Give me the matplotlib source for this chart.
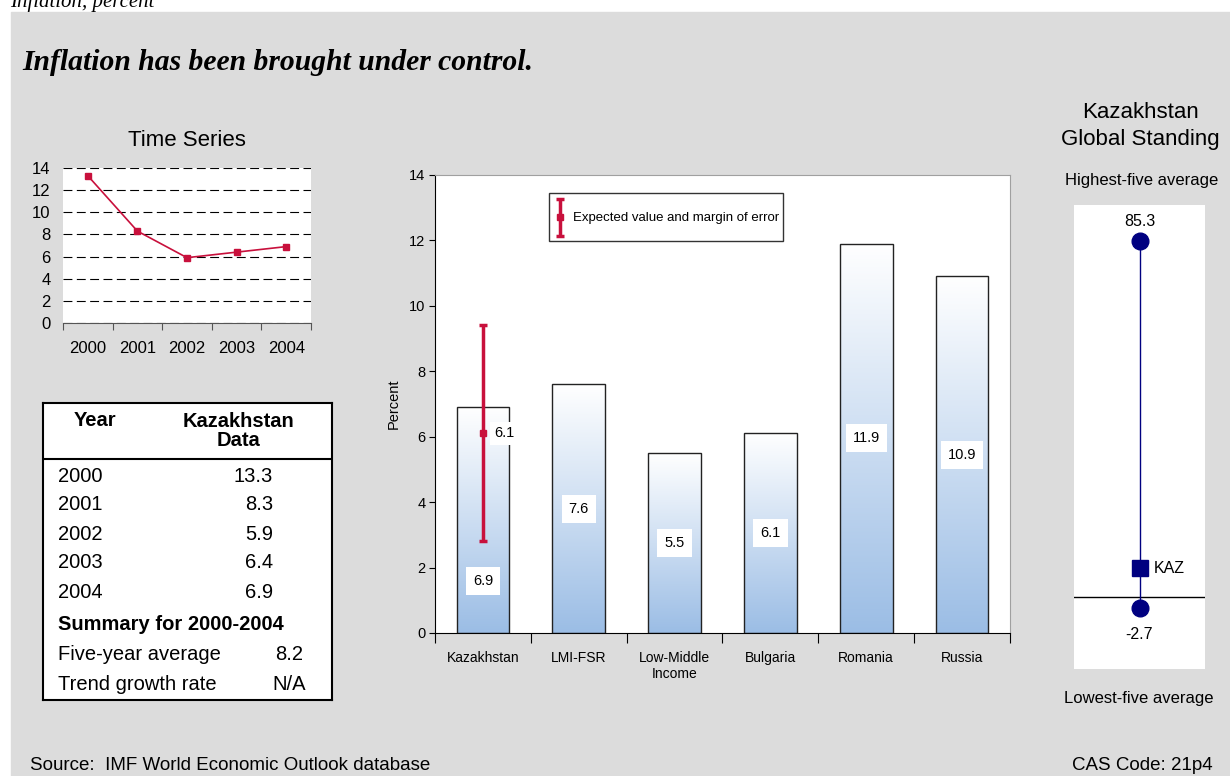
import matplotlib
matplotlib.use('Agg')
import matplotlib.pyplot as plt
import numpy as np
from matplotlib.patches import Rectangle
from matplotlib.colors import LinearSegmentedColormap
from matplotlib.container import ErrorbarContainer
from matplotlib.legend_handler import HandlerErrorbar

# Kazakhstan inflation, percent
years = ['2000', '2001', '2002', '2003', '2004']
kaz_inflation = [13.3, 8.3, 5.9, 6.4, 6.9]

# five-year averages for the comparison group
countries = ['Kazakhstan', 'LMI-FSR', 'Low-Middle\nIncome', 'Bulgaria', 'Romania', 'Russia']
avg_inflation = [6.9, 7.6, 5.5, 6.1, 11.9, 10.9]

# expected value and margin of error for Kazakhstan
expected_value = 6.1
error_low = 2.8
error_high = 9.4

# global standing
highest_five = 85.3
lowest_five = -2.7
kaz_standing = 6.9

SANS = 'Liberation Sans'
SERIF = 'Liberation Serif'
plt.rcParams['font.family'] = SANS

RED = '#C8103C'
NAVY = '#000080'
GRAY = '#DCDCDC'

W, H = 1230, 776
fig = plt.figure(figsize=(W / 100, H / 100), dpi=100)


def px_axes(x0, y0, x1, y1):
    return fig.add_axes([x0 / W, 1 - y1 / H, (x1 - x0) / W, (y1 - y0) / H])


def ftext(x, y, s, **kw):
    return fig.text(x / W, 1 - y / H, s, **kw)


class CenteredErrorbar(HandlerErrorbar):
    # keep the error bar centred inside the legend's handle box
    def create_artists(self, legend, orig_handle, xdescent, ydescent,
                       width, height, fontsize, trans):
        return super().create_artists(legend, orig_handle, xdescent, ydescent,
                                      width, height - ydescent, fontsize, trans)


# grey panel
fig.patches.append(Rectangle((11 / W, 0), 1 - 11 / W, 1 - 12 / H,
                             transform=fig.transFigure, color=GRAY, zorder=-10))

ftext(10, 7, 'Inflation, percent', family=SERIF, style='italic', fontsize=15, va='baseline')
ftext(22, 62, 'Inflation has been brought under control.', family=SERIF,
      style='italic', weight='bold', fontsize=21.3, va='center')

# ---- time series ----
ftext(187, 140, 'Time Series', fontsize=16, ha='center', va='center')
ax1 = px_axes(63, 168, 311, 323)
x = np.arange(len(years))
ax1.plot(x, kaz_inflation, color=RED, lw=1.2, marker='s', ms=4)
ax1.set_xlim(-0.5, len(years) - 0.5)
ax1.set_ylim(0, 14)
ax1.set_yticks(range(0, 15, 2))
ax1.yaxis.grid(True, ls=(0, (8, 4)), color='black', lw=0.8)
ax1.set_axisbelow(True)
ax1.set_xticks(np.arange(-0.5, len(years), 1))
ax1.set_xticks(x, years, minor=True)
ax1.tick_params(axis='x', which='major', labelbottom=False, length=5, color='#555555')
ax1.tick_params(axis='x', which='minor', length=0, pad=13, labelsize=12)
ax1.tick_params(axis='y', length=0, pad=9, labelsize=12)
for s in ['left', 'top', 'right']:
    ax1.spines[s].set_visible(False)
ax1.spines['bottom'].set_color('#555555')

# ---- data table ----
axt = px_axes(43, 403, 332, 700)
axt.set_xlim(43, 332)
axt.set_ylim(700, 403)
axt.set_xticks([])
axt.set_yticks([])
for s in axt.spines.values():
    s.set_linewidth(1.5)
axt.axhline(459, color='black', lw=1.5)
tfs = 14.5
axt.text(95, 420, 'Year', ha='center', va='center', weight='bold', fontsize=tfs)
axt.text(238, 431, 'Kazakhstan\nData', ha='center', va='center', weight='bold',
         fontsize=tfs, linespacing=1.0)
for i, (yr, v) in enumerate(zip(years, kaz_inflation)):
    axt.text(58, 476 + 29 * i, yr, va='center', fontsize=tfs)
    axt.text(273, 476 + 29 * i, f'{v:.1f}', va='center', ha='right', fontsize=tfs)
axt.text(58, 625, f'Summary for {years[0]}-{years[-1]}', va='center', weight='bold', fontsize=tfs)
axt.text(58, 655, 'Five-year average', va='center', fontsize=tfs)
axt.text(289, 655, f'{np.mean(kaz_inflation):.1f}', va='center', ha='center', fontsize=tfs)
axt.text(58, 684, 'Trend growth rate', va='center', fontsize=tfs)
axt.text(289, 684, 'N/A', va='center', ha='center', fontsize=tfs)

# ---- comparison bars ----
ax2 = px_axes(435, 175, 1010, 633)
xc = np.arange(len(countries))
bw = 0.55
ax2.bar(xc, avg_inflation, width=bw, facecolor='none', edgecolor='#222222', lw=1, zorder=3)
cmap = LinearSegmentedColormap.from_list('fade', ['white', '#9BBDE5'])
grad = np.linspace(1, 0, 256).reshape(-1, 1)
for xi, v in zip(xc, avg_inflation):
    ax2.imshow(grad, extent=[xi - bw / 2, xi + bw / 2, 0, v], origin='lower',
               aspect='auto', cmap=cmap, zorder=2)

label_y = [v / 2 for v in avg_inflation]
label_y[0] = error_low - 1.2
for xi, v, ly in zip(xc, avg_inflation, label_y):
    ax2.text(xi, ly, f'{v:.1f}', ha='center', va='center', fontsize=10.5,
             zorder=5, bbox=dict(fc='white', ec='none', pad=5))

eb = ax2.errorbar(0, expected_value,
                  yerr=[[expected_value - error_low], [error_high - expected_value]],
                  fmt='s', color=RED, ms=5, elinewidth=2.5, capsize=3, capthick=2.5,
                  zorder=4, label='Expected value and margin of error')
ax2.text(0.12, expected_value, f'{expected_value:.1f}', ha='left', va='center',
         fontsize=10.5, zorder=5, bbox=dict(fc='white', ec='none', pad=3))

ax2.set_xlim(-0.5, len(countries) - 0.5)
ax2.set_ylim(0, 14)
ax2.set_yticks(range(0, 15, 2))
ax2.set_xticks(np.arange(-0.5, len(countries), 1))
ax2.set_xticks(xc, countries, minor=True)
ax2.tick_params(axis='x', which='major', labelbottom=False, length=7, direction='out')
ax2.tick_params(axis='x', which='minor', length=0, pad=13, labelsize=10)
ax2.tick_params(axis='y', length=4, pad=3, labelsize=10.5)
ax2.set_ylabel('Percent', fontsize=10.5, labelpad=6)
ax2.spines['top'].set_color('#A0A0A0')
ax2.spines['right'].set_color('#A0A0A0')

leg = ax2.legend(loc='upper left', bbox_to_anchor=((549 - 435) / 575, (633 - 193) / 458),
                 borderaxespad=0, fancybox=False, edgecolor='#333333', framealpha=1,
                 prop={'size': 9.5}, handlelength=1.2, handleheight=4.5,
                 handletextpad=0.4, borderpad=0.25,
                 handler_map={ErrorbarContainer: CenteredErrorbar(yerr_size=1.4)})
leg.get_frame().set_linewidth(1)

# ---- global standing ----
ftext(1140, 113, 'Kazakhstan', fontsize=16, ha='center', va='center')
ftext(1140, 140, 'Global Standing', fontsize=16, ha='center', va='center')
ftext(1142, 180, 'Highest-five average', fontsize=12, ha='center', va='center')
ftext(1139, 698, 'Lowest-five average', fontsize=12, ha='center', va='center')

ax3 = px_axes(1074, 205, 1205, 669)
ax3.set_xlim(0, 1)
ax3.set_ylim(-17.3, 93.9)
ax3.set_xticks([])
ax3.set_yticks([])
for s in ax3.spines.values():
    s.set_visible(False)
ax3.axhline(0, color='black', lw=1)
ax3.plot([0.5, 0.5], [lowest_five, highest_five], color=NAVY, lw=1)
ax3.plot([0.5, 0.5], [highest_five, lowest_five], 'o', ms=12, color=NAVY)
ax3.plot(0.5, kaz_standing, 's', ms=12, color=NAVY)
ax3.annotate(f'{highest_five:.1f}', (0.5, highest_five), xytext=(0, 14),
             textcoords='offset points', ha='center', va='center', fontsize=11.5)
ax3.annotate(f'{lowest_five:.1f}', (0.5, lowest_five), xytext=(0, -19),
             textcoords='offset points', ha='center', va='center', fontsize=11.5)
ax3.annotate('KAZ', (0.5, kaz_standing), xytext=(10, 0),
             textcoords='offset points', ha='left', va='center', fontsize=11.5)

# ---- footer ----
ftext(30, 766, 'Source:  IMF World Economic Outlook database', fontsize=13.5, va='center')
ftext(1213, 766, 'CAS Code: 21p4', fontsize=13.5, va='center', ha='right')

fig.savefig('out.png', dpi=100)
